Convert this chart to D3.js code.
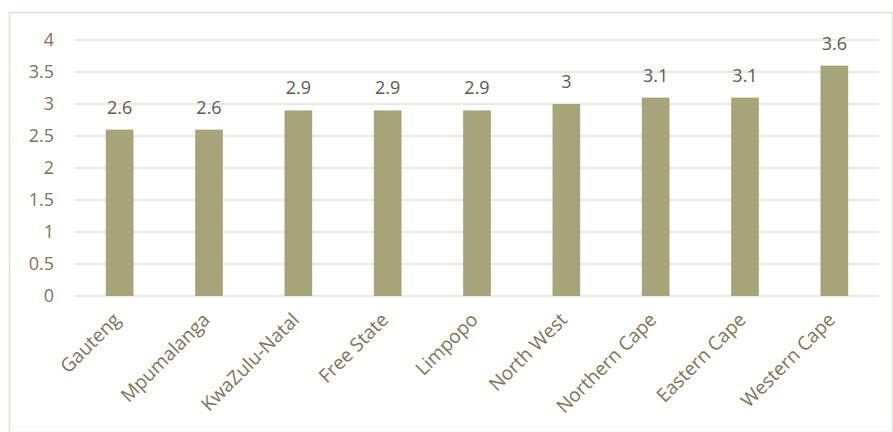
<!DOCTYPE html>
<html>
<head>
<meta charset="utf-8">
<script src="https://cdn.jsdelivr.net/npm/d3@7"></script>
<style>
  body { margin: 0; background: #fff; }
  text { font-family: "Open Sans", sans-serif; }
</style>
</head>
<body>
<svg id="chart"></svg>
<script>
var provinces = ["Gauteng", "Mpumalanga", "KwaZulu-Natal", "Free State", "Limpopo",
    "North West", "Northern Cape", "Eastern Cape", "Western Cape"];
var values = [2.6, 2.6, 2.9, 2.9, 2.9, 3, 3.1, 3.1, 3.6];
var yTicks = [0, 0.5, 1, 1.5, 2, 2.5, 3, 3.5, 4];

var W = 893, H = 432;
var textColor = "#7f7356";

var svg = d3.select("#chart")
    .attr("width", W)
    .attr("height", H);

// outer chart border
svg.append("rect")
    .attr("x", 9.5).attr("y", 12.5)
    .attr("width", W - 10).attr("height", H - 12)
    .attr("fill", "none")
    .attr("stroke", "#e3dfd3")
    .attr("stroke-width", 1.5);

var x = d3.scaleBand()
    .domain(provinces)
    .range([75, 879])
    .paddingInner(0.69)
    .paddingOuter(0.345);

var y = d3.scaleLinear()
    .domain([0, 4])
    .range([296, 40]);

// gridlines
svg.append("g")
    .selectAll("line")
    .data(yTicks)
    .enter()
    .append("line")
    .attr("x1", 75).attr("x2", 879)
    .attr("y1", function (d) { return y(d); })
    .attr("y2", function (d) { return y(d); })
    .attr("stroke", "#e6e2d8")
    .attr("stroke-width", 1.5);

// y axis labels
var yAxis = svg.append("g")
    .attr("transform", "translate(54,0)")
    .call(d3.axisLeft(y).tickValues(yTicks).tickSize(0).tickPadding(0).tickFormat(function (d) { return d; }));
yAxis.select(".domain").remove();
yAxis.selectAll("text")
    .attr("fill", textColor)
    .style("font-size", "18px");

// bars
svg.selectAll("rect.bar")
    .data(values)
    .enter()
    .append("rect")
    .attr("class", "bar")
    .attr("x", function (d, i) { return x(provinces[i]); })
    .attr("y", function (d) { return y(d); })
    .attr("width", x.bandwidth())
    .attr("height", function (d) { return y(0) - y(d); })
    .attr("fill", "#a8a47a");

// value labels
svg.selectAll("text.val")
    .data(values)
    .enter()
    .append("text")
    .attr("class", "val")
    .attr("x", function (d, i) { return x(provinces[i]) + x.bandwidth() / 2; })
    .attr("y", function (d) { return y(d) - 16; })
    .attr("text-anchor", "middle")
    .attr("fill", "#5e5a4f")
    .style("font-size", "18px")
    .text(function (d) { return d; });

// x axis labels
var xAxis = svg.append("g")
    .attr("transform", "translate(0,296)")
    .call(d3.axisBottom(x).tickSize(0).tickPadding(0));
xAxis.select(".domain").remove();
xAxis.selectAll("text")
    .attr("fill", textColor)
    .style("font-size", "19px")
    .attr("dy", 0)
    .attr("y", 0)
    .attr("transform", "translate(2,25) rotate(-45)")
    .style("text-anchor", "end");
</script>
</body>
</html>
